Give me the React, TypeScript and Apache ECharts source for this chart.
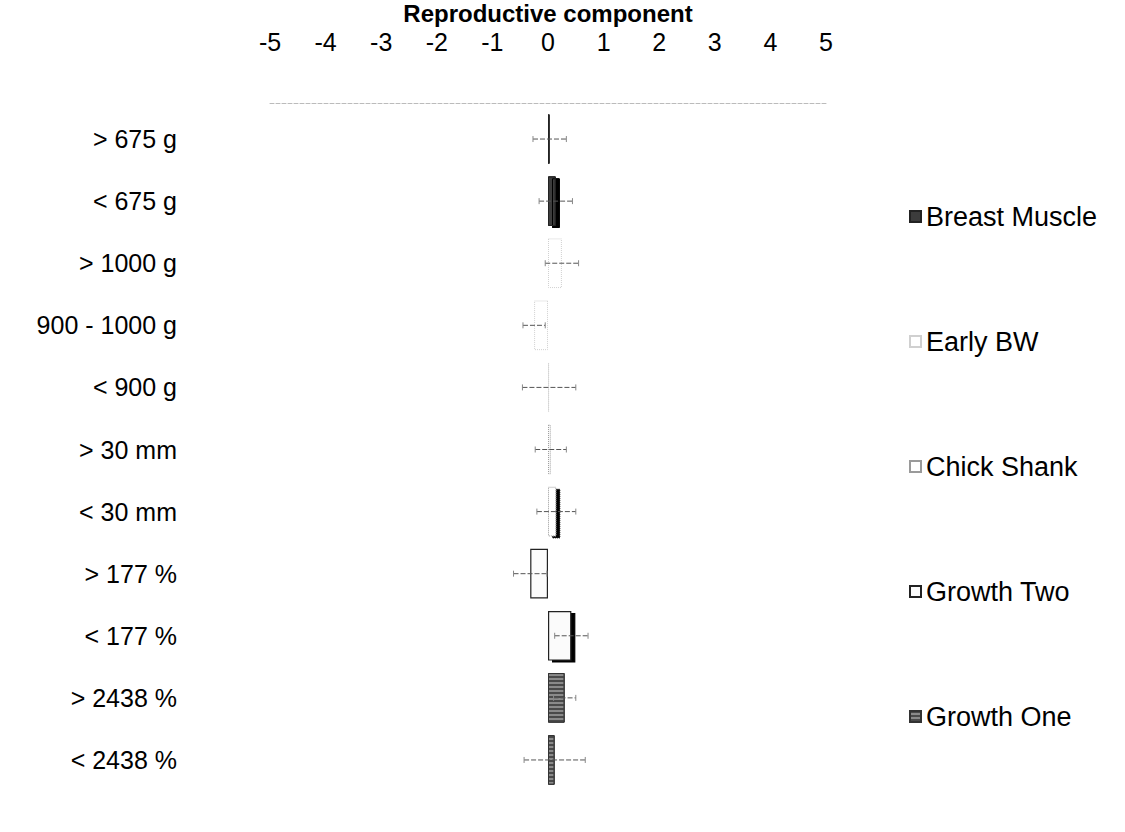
import React, { useEffect, useRef } from "react";
import * as echarts from "echarts";

const categories = [
  "> 675 g",
  "< 675 g",
  "> 1000 g",
  "900 - 1000 g",
  "< 900 g",
  "> 30 mm",
  "< 30 mm",
  "> 177 %",
  "< 177 %",
  "> 2438 %",
  "< 2438 %",
];
const groups = ["Breast Muscle", "Early BW", "Chick Shank", "Growth Two", "Growth One"];
const groupOf = [0, 0, 1, 1, 1, 2, 2, 3, 3, 4, 4];
const values = [0.03, 0.14, 0.25, -0.25, 0.02, 0.05, 0.15, -0.32, 0.42, 0.3, 0.12];
const errors = [0.3, 0.3, 0.3, 0.2, 0.48, 0.28, 0.35, 0.3, 0.3, 0.2, 0.55];
const shadowed = [false, true, false, false, false, false, true, false, true, false, false];
const xMin = -5;
const xMax = 5;
const xStep = 1;
const axisTitle = "Reproductive component";

const FONT = "'Liberation Sans', Arial, sans-serif";

const groupStyles: any[] = [
  {
    color: "#3c3c3c",
    borderColor: "#222",
    borderWidth: 1,
    decal: { symbol: "circle", symbolSize: 0.4, dashArrayX: [2, 3], dashArrayY: [2, 3], color: "rgba(255,255,255,0.35)" },
  },
  { color: "#ffffff", borderColor: "#d0d0d0", borderWidth: 1, borderType: "dotted" },
  { color: "#ffffff", borderColor: "#9a9a9a", borderWidth: 1, borderType: "dotted" },
  { color: "#fbfbfb", borderColor: "#222", borderWidth: 1.2 },
  {
    color: "#8a8a8a",
    borderColor: "#333",
    borderWidth: 1,
    decal: { symbol: "rect", dashArrayX: [1, 0], dashArrayY: [2, 2], color: "#4a4a4a", rotation: 0 },
  },
];

export default function App() {
  const ref = useRef<HTMLDivElement>(null);

  useEffect(() => {
    document.body.style.margin = "0";
    const chart = echarts.init(ref.current!, null, { renderer: "svg" });

    const barSeries = groups.map((g, gi) => ({
      name: g,
      type: "bar",
      barGap: "-100%",
      barCategoryGap: "20%",
      itemStyle: groupStyles[gi],
      data: values.map((v, i) => {
        if (groupOf[i] !== gi) return "-";
        if (shadowed[i]) {
          return {
            value: v,
            itemStyle: { shadowColor: "#000", shadowOffsetX: 4, shadowOffsetY: 2, shadowBlur: 0.5 },
          };
        }
        return v;
      }),
    }));

    const errSeries = {
      type: "custom",
      name: "err",
      encode: { x: 1, y: 0 },
      data: values.map((v, i) => [i, v, errors[i]]),
      renderItem: (params: any, api: any) => {
        const c = api.value(0);
        const v = api.value(1);
        const e = api.value(2);
        const p1 = api.coord([v - e, c]);
        const p2 = api.coord([v + e, c]);
        const h = 3;
        const st = { stroke: "#555", lineWidth: 1, lineDash: [5, 2] };
        const cap = { stroke: "#888", lineWidth: 1 };
        return {
          type: "group",
          children: [
            { type: "line", shape: { x1: p1[0], y1: p1[1], x2: p2[0], y2: p2[1] }, style: st },
            { type: "line", shape: { x1: p1[0], y1: p1[1] - h, x2: p1[0], y2: p1[1] + h }, style: cap },
            { type: "line", shape: { x1: p2[0], y1: p2[1] - h, x2: p2[0], y2: p2[1] + h }, style: cap },
          ],
        };
      },
      z: 5,
    };

    chart.setOption({
      animation: false,
      backgroundColor: "#fff",
      textStyle: { fontFamily: FONT },
      grid: { left: 270, right: 299, top: 108, bottom: 41, containLabel: false, outerBoundsMode: "none" },
      graphic: [
        {
          type: "text",
          x: 548,
          y: 1,
          style: {
            text: axisTitle,
            align: "center",
            verticalAlign: "top",
            fontSize: 24,
            fontWeight: "bold",
            fontFamily: FONT,
            fill: "#000",
          },
        },
      ],
      legend: {
        data: groups,
        orient: "vertical",
        left: 904,
        top: 197,
        itemWidth: 11,
        itemHeight: 11,
        itemGap: 96,
        icon: "rect",
        textStyle: { fontSize: 27, color: "#000", fontFamily: FONT, lineHeight: 29 },
      },
      xAxis: {
        type: "value",
        position: "top",
        offset: 5,
        min: xMin,
        max: xMax,
        interval: xStep,
        axisLine: { show: true, lineStyle: { color: "#bbb", type: "dashed" } },
        axisTick: { show: false },
        splitLine: { show: false },
        axisLabel: { fontSize: 25, color: "#000", margin: 49, fontFamily: FONT },
      },
      yAxis: {
        type: "category",
        data: categories,
        inverse: true,
        axisLine: { show: false },
        axisTick: { show: false },
        splitLine: { show: false },
        axisLabel: { fontSize: 25, color: "#000", margin: 93, fontFamily: FONT },
      },
      series: [...barSeries, errSeries],
    });

    return () => chart.dispose();
  }, []);

  return <div ref={ref} style={{ width: 1125, height: 832 }} />;
}
